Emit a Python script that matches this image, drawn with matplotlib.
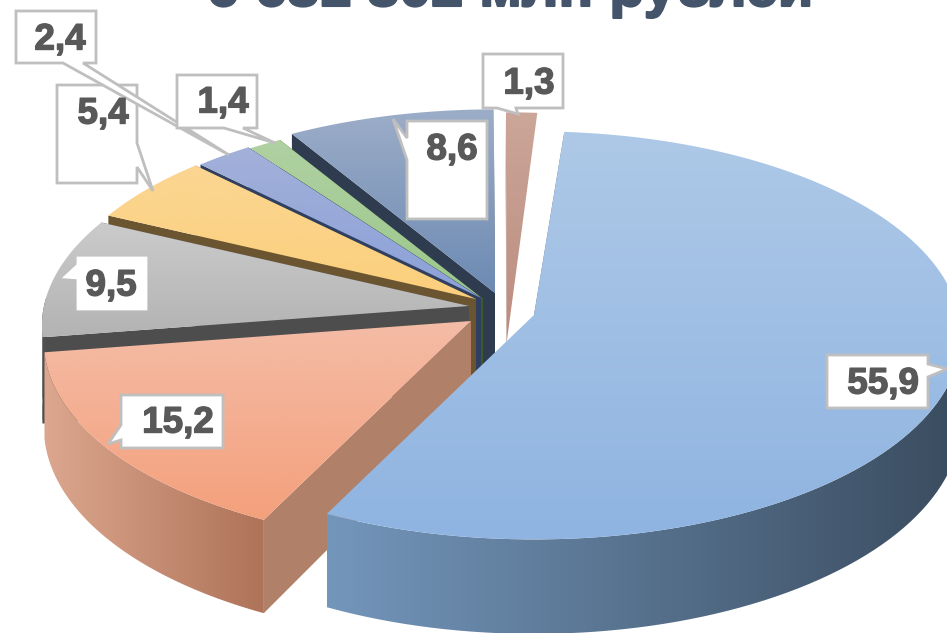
import numpy as np
import matplotlib
matplotlib.use('Agg')
import matplotlib.pyplot as plt
import matplotlib.patheffects as pe
from matplotlib.colors import LinearSegmentedColormap
from matplotlib.patches import Polygon

# chart values, clockwise from the big slice
values = [55.9, 15.2, 9.5, 5.4, 2.4, 1.4, 8.6, 1.3]
labels = ['55,9', '15,2', '9,5', '5,4', '2,4', '1,4', '8,6', '1,3']
title = '6 681 802 млн рублей'

# style per slice: top gradient (far, near), rim gradient (left, right), wall colour
top_cols = [('#aec9e7', '#8fb4e1'), ('#f4bca6', '#f4a07c'), ('#cbcbcb', '#b3b3b3'),
            ('#fbd692', '#fbcf7c'), ('#a3b1d9', '#8ba0d9'), ('#b0d1a2', '#9bc78b'),
            ('#9cadc8', '#6d8ab3'), ('#cba699', '#bb8c7e')]
rim_cols = [('#7396bb', '#3a4c5f'), ('#dca78f', '#ae7358'), ('#505050', '#505050'),
            ('#6b5530', '#6b5530'), ('#2f3f60', '#2f3f60'), ('#3d5a2a', '#3d5a2a'),
            ('#2f3c50', '#2f3c50'), ('#a8796d', '#a8796d')]
wall_cols = ['#5b7390', '#b08068', '#4d4d4d', '#6b5530', '#2f3f60', '#3d5a2a', '#2f3c50', '#a0776a']
centers = [(534, 315), (471, 321), (469, 306), (476, 299), (481, 298), (483, 299), (495, 293), (507, 296)]
apex_shift = [0, 0, 0, 0, 0, 0, 0, 44]

START = 4.5
A, B, K = 425.0, 202.0, 0.10
DEPTH = 85.0

# label boxes: x0, y0, x1, y1, pointer base a, pointer base b, tip, text position, border
boxes = {
    '55,9': (827, 355, 928, 408, (928, 364), (928, 377), (947, 369), (883, 384), True),
    '15,2': (121, 395, 223, 448, (121, 425), (121, 440), (108, 444), (178, 423), True),
    '9,5': (78, 258, 146, 309, (78, 265), (78, 278), (65, 277), (111, 286), False),
    '5,4': (57, 85, 137, 183, (137, 143), (137, 167), (153, 191), (103, 114), True),
    '2,4': (16, 11, 96, 63, (63, 63), (83, 63), (229, 155), (60, 40), True),
    '1,4': (177, 75, 257, 128, (224, 128), (243, 128), (275, 143), (223, 103), True),
    '8,6': (407, 121, 487, 219, (407, 138), (407, 160), (393, 119), (452, 150), True),
    '1,3': (483, 54, 563, 108, (497, 108), (516, 108), (518, 114), (529, 84), True),
}


def project(center, deg, r=1.0, drop=0.0):
    # clockwise degrees from the top, with a little perspective towards the viewer
    t = np.radians(deg)
    X, Y = r * np.sin(t), r * np.cos(t)
    s = 1 / (1 + K * Y)
    return np.column_stack([center[0] + A * X * s, center[1] - B * Y * s + drop * s])


def gradient_fill(ax, pts, c0, c1, z, vertical=True):
    cmap = LinearSegmentedColormap.from_list('g', [c0, c1])
    grad = np.linspace(0, 1, 256)
    grad = grad.reshape(-1, 1) if vertical else grad.reshape(1, -1)
    x0, x1 = pts[:, 0].min(), pts[:, 0].max()
    y0, y1 = pts[:, 1].min(), pts[:, 1].max()
    im = ax.imshow(grad, cmap=cmap, extent=(x0, x1, y1, y0), origin='upper', aspect='auto',
                   zorder=z, interpolation='bilinear')
    patch = Polygon(pts, closed=True, transform=ax.transData, fc='none', ec='none')
    ax.add_patch(patch)
    im.set_clip_path(patch)


fig = plt.figure(figsize=(9.47, 6.33), dpi=100)
ax = fig.add_axes([0, 0, 1, 1])
ax.axis('off')

# angles come straight from the values
total = sum(values)
edges = START + np.cumsum([0] + values) / total * 360

# paint from the back to the front: the big slice goes last
order = [7, 6, 5, 4, 3, 2, 1, 0]
z = 2
for i in order:
    c = centers[i]
    arc = np.linspace(edges[i], edges[i + 1], 120)
    apex = project(c, 0, r=0.0) + [0, apex_shift[i]]
    apex_low = project(c, 0, r=0.0, drop=DEPTH) + [0, apex_shift[i]]
    rim_top = project(c, arc)
    rim_low = project(c, arc, drop=DEPTH)

    # radial wall on the leading edge
    wall = np.vstack([apex, rim_top[:1], rim_low[:1], apex_low])
    ax.add_patch(Polygon(wall, closed=True, fc=wall_cols[i], ec='none', zorder=z))
    z += 1

    # wall on the trailing edge, only seen on the back slices
    if i in (2, 3, 4, 5, 6):
        wall2 = np.vstack([apex, rim_top[-1:], rim_low[-1:], apex_low])
        ax.add_patch(Polygon(wall2, closed=True, fc=wall_cols[i], ec='none', zorder=z))
        z += 1

    # outer rim, only the part that faces the viewer
    front = np.cos(np.radians(arc)) < 0.05
    if front.any():
        rim = np.vstack([rim_top[front], rim_low[front][::-1]])
        gradient_fill(ax, rim, rim_cols[i][0], rim_cols[i][1], z, vertical=False)
        z += 1

    top = np.vstack([apex, rim_top])
    gradient_fill(ax, top, top_cols[i][0], top_cols[i][1], z)
    z += 1

# callouts
heavy = [pe.withStroke(linewidth=1.0, foreground='#595959')]
for lab in labels:
    x0, y0, x1, y1, a, b, tip, txt, border = boxes[lab]
    if a[1] == y1:
        pts = [(x0, y0), (x1, y0), (x1, y1), b, tip, a, (x0, y1)]
    elif a[0] == x1:
        pts = [(x0, y0), (x1, y0), a, tip, b, (x1, y1), (x0, y1)]
    else:
        pts = [(x0, y0), (x1, y0), (x1, y1), (x0, y1), b, tip, a]
    ax.add_patch(Polygon(pts, closed=True, fc='white', ec='#bfbfbf' if border else 'white',
                         lw=2, zorder=100, joinstyle='miter'))
    ax.text(txt[0], txt[1], lab, ha='center', va='center', fontsize=26.5, fontweight='bold',
            family='Liberation Sans', color='#595959', zorder=101, path_effects=heavy)

ax.text(510, 6, title, ha='center', va='baseline', fontsize=41.5, fontweight='bold',
        family='Liberation Sans', color='#44546a', zorder=101,
        path_effects=[pe.withStroke(linewidth=1.5, foreground='#44546a')])

ax.set_xlim(0, 947)
ax.set_ylim(633, 0)
fig.savefig('out.png', dpi=100, facecolor='white')
